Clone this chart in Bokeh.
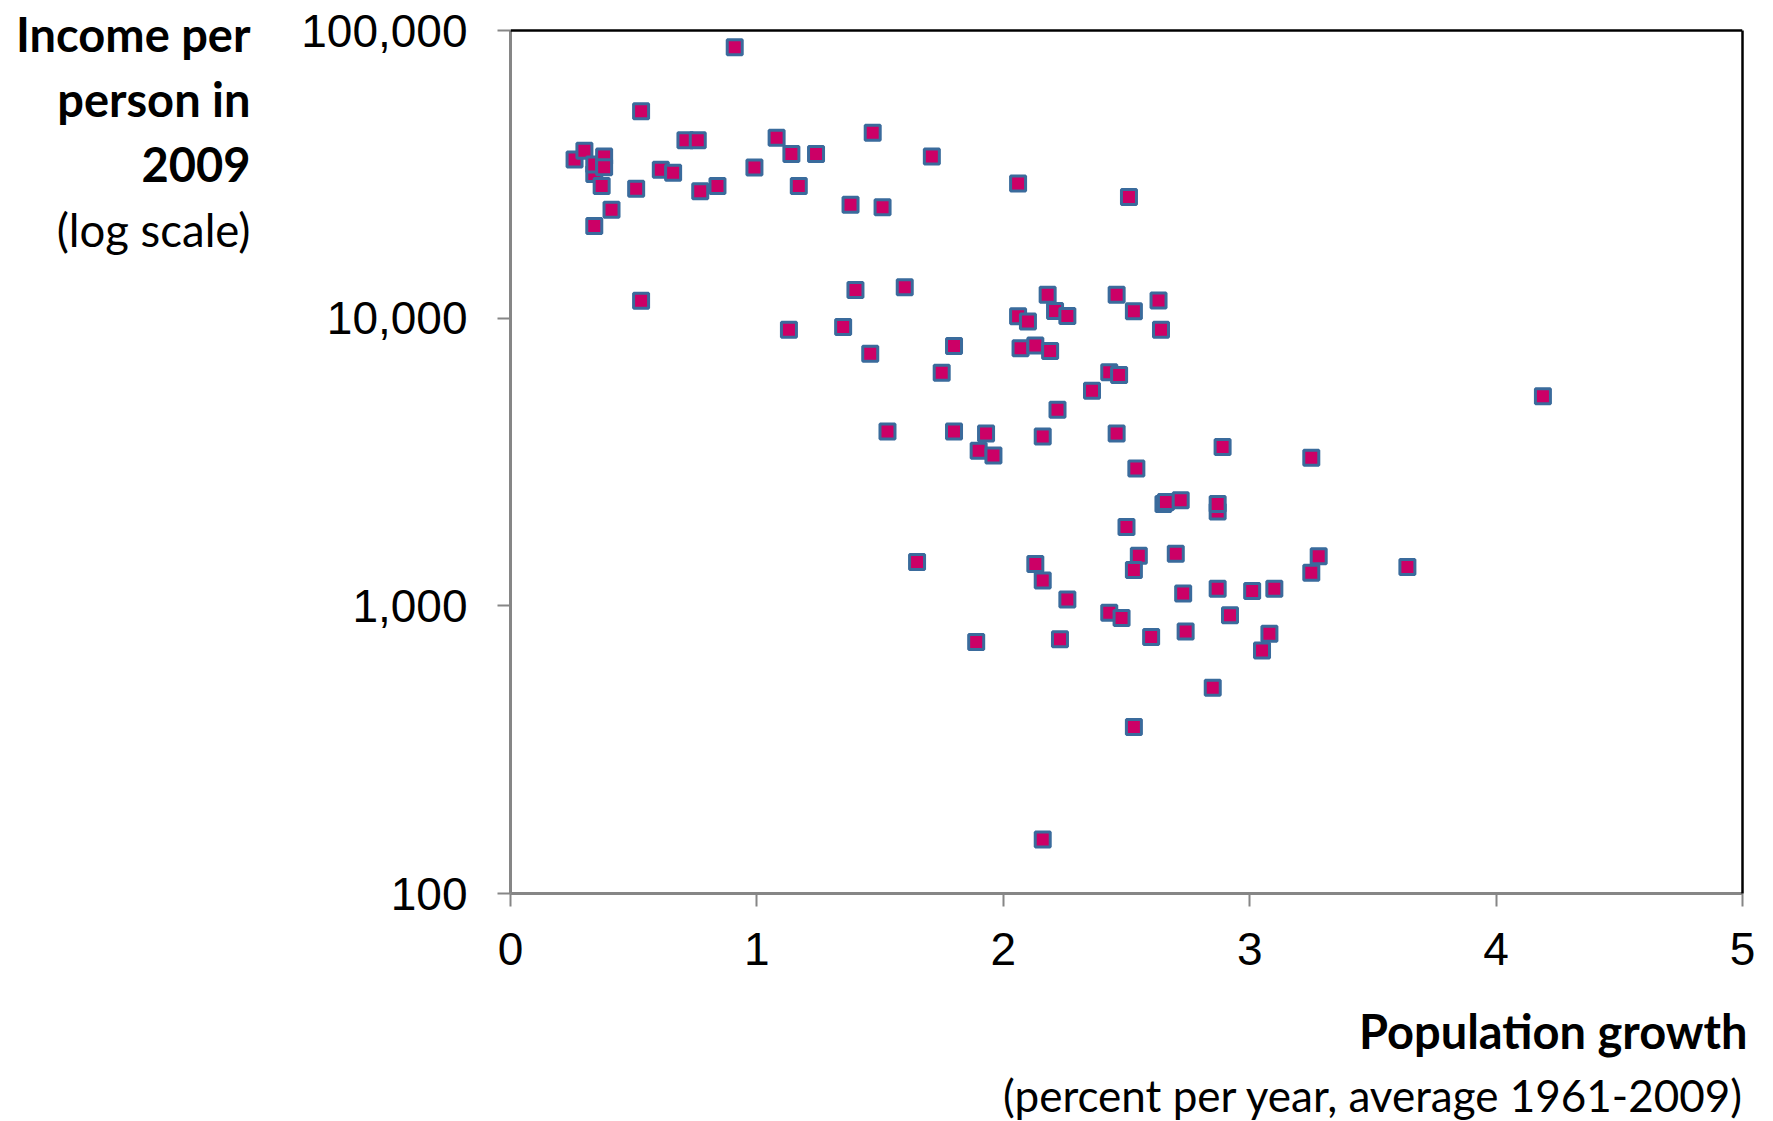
import math
from bokeh.plotting import figure
from bokeh.models import FixedTicker, NumeralTickFormatter, Range1d, Span, LogAxis
from bokeh.layouts import column, row
from bokeh.core.properties import value
from bokeh.embed import file_html
from bokeh.resources import INLINE

# Population growth (percent per year, average 1961-2009)
growth = [0.91, 0.53, 0.26, 0.30, 0.34, 0.34, 0.38, 0.38, 0.37, 0.41, 0.34, 0.51, 0.61, 0.66, 0.71,
          0.76, 0.77, 0.84, 0.99, 1.08, 1.14, 1.24, 1.17, 1.47, 1.38, 1.51, 1.71, 2.06, 2.51,
          0.53, 1.13, 1.40, 1.60, 1.35, 1.46, 1.80, 1.75, 2.06, 2.10, 2.18, 2.21, 2.26, 2.07, 2.13,
          2.19, 2.46, 2.63, 2.53, 2.64, 2.43, 2.47, 2.36, 2.22,
          1.53, 1.80, 1.93, 1.90, 1.96, 2.16, 2.46, 2.54, 2.89, 3.25, 4.19,
          2.65, 2.66, 2.72, 2.87, 2.87, 2.50, 1.65, 2.13, 2.16, 2.26, 2.55, 2.53, 2.70, 2.73, 2.87,
          3.01, 3.10, 3.25, 3.28, 3.64,
          2.43, 2.48, 2.92, 1.89, 2.23, 2.60, 2.74, 3.08, 3.05, 2.85, 2.53, 2.16]

# Income per person in 2009
income = [87500, 52400, 35600, 38200, 31700, 34200, 36500, 33500, 28800, 23800, 20900, 28200, 32800, 32000, 41500,
          41500, 27600, 28800, 33400, 42400, 37200, 37200, 28800, 44100, 24800, 24300, 36500, 29400, 26400,
          11500, 9120, 12540, 12820, 9310, 7520, 8000, 6460, 10150, 9740, 12050, 10580, 10170, 7860, 8040,
          7690, 12050, 11530, 10570, 9110, 6480, 6350, 5590, 4800,
          4040, 4040, 3970, 3460, 3330, 3880, 3970, 3000, 3565, 3270, 5350,
          2260, 2295, 2327, 2128, 2260, 1878, 1421, 1397, 1226, 1053, 1492, 1332, 1518, 1103, 1147,
          1126, 1147, 1303, 1486, 1364,
          947, 907, 927, 748, 765, 779, 815, 800, 700, 519, 379, 154]

x_ticks = [0, 1, 2, 3, 4, 5]
y_ticks = [100, 1000, 10000, 100000]
X_MIN, X_MAX = 0, 5
Y_MIN, Y_MAX = 100, 100000

y_title_lines = ["Income per", "person in", "2009", "(log scale)"]
y_title_style = ["bold", "bold", "bold", "normal"]
y_title_size = ["47px", "47px", "47px", "45.5px"]
x_title_lines = ["Population growth", "(percent per year, average 1961-2009)"]
x_title_style = ["bold", "normal"]
x_title_size = ["47px", "44px"]

W, H = 1773, 1121
LEFT_W = 256
TOP_H = 1000
FL, FR, FT, FB = 510, 1742, 30, 893
TITLE_FONT = "Lato"
AXIS_GREY = "#868686"

# extend the log range above 100,000 so the frame reaches the canvas top,
# leaving the 100,000 level FT pixels below it
decades = math.log10(Y_MAX) - math.log10(Y_MIN)
px_per_decade = (FB - FT) / decades
y_top = 10 ** (math.log10(Y_MAX) + FT / px_per_decade)


def text_fig(w, h, bottom=0):
    f = figure(width=w, height=h, x_range=Range1d(0, w), y_range=Range1d(h - bottom, 0),
               output_backend="svg", toolbar_location=None, title=None,
               min_border_left=0, min_border_right=0, min_border_top=0, min_border_bottom=bottom,
               x_axis_type=None, y_axis_type=None)
    f.outline_line_color = None
    f.grid.visible = False
    f.background_fill_color = "white"
    f.border_fill_color = "white"
    return f


# main chart
main_w = W - LEFT_W
p = figure(width=main_w, height=TOP_H, y_axis_type="log",
           x_range=Range1d(X_MIN, X_MAX), y_range=Range1d(Y_MIN, y_top),
           output_backend="svg", toolbar_location=None, title=None,
           min_border_left=FL - LEFT_W, min_border_right=W - FR, min_border_top=0,
           min_border_bottom=TOP_H - FB)
p.grid.visible = False
p.outline_line_color = None
p.background_fill_color = "white"
p.border_fill_color = "white"

p.xaxis.ticker = FixedTicker(ticks=x_ticks)
p.yaxis.ticker = FixedTicker(ticks=y_ticks)
p.yaxis.formatter = NumeralTickFormatter(format="0,0")
p.yaxis.bounds = (Y_MIN, Y_MAX)
for ax in (p.xaxis, p.yaxis):
    ax.axis_line_color = AXIS_GREY
    ax.axis_line_width = 3
    ax.major_tick_line_color = AXIS_GREY
    ax.major_tick_line_width = 2
    ax.major_tick_out = 13
    ax.major_tick_in = 0
    ax.minor_tick_line_color = None
    ax.major_label_text_font = "Liberation Sans"
    ax.major_label_text_font_size = "46px"
    ax.major_label_text_color = "black"
p.yaxis.major_label_standoff = 30
p.xaxis.major_label_standoff = 26

# black top and right border of the plot area
p.add_layout(Span(location=Y_MAX, dimension="width", line_color="black", line_width=2.5))
right_axis = LogAxis(bounds=(Y_MIN, Y_MAX), ticker=FixedTicker(ticks=[]),
                     axis_line_color="black", axis_line_width=2.5,
                     major_tick_line_color=None, minor_tick_line_color=None,
                     major_label_text_font_size="0px", major_label_standoff=0)
p.add_layout(right_axis, "right")

p.scatter(growth, income, marker="square", size=15, fill_color="#CC0066",
          line_color="#3A6B9C", line_width=3)

# left title block (y in canvas pixels)
left = text_fig(LEFT_W, TOP_H, bottom=TOP_H - FB)
left_y = [33, 98, 163.5, 228.5]
for txt, style, size, yy in zip(y_title_lines, y_title_style, y_title_size, left_y):
    left.text(x=[250], y=[yy], text=[txt], text_font=value(TITLE_FONT), text_font_size=size,
              text_font_style=style, text_align="right", text_baseline="middle", text_color="black")

# bottom title block
bottom = text_fig(W, H - TOP_H)
bottom_pos = [(1747, 1030 - TOP_H), (1743.5, 1094 - TOP_H)]
for txt, style, size, (xx, yy) in zip(x_title_lines, x_title_style, x_title_size, bottom_pos):
    bottom.text(x=[xx], y=[yy], text=[txt], text_font=value(TITLE_FONT), text_font_size=size,
                text_font_style=style, text_align="right", text_baseline="middle", text_color="black")

layout = column(row(left, p, spacing=0), bottom, spacing=0)
open("out.html", "w").write(file_html(layout, INLINE))
